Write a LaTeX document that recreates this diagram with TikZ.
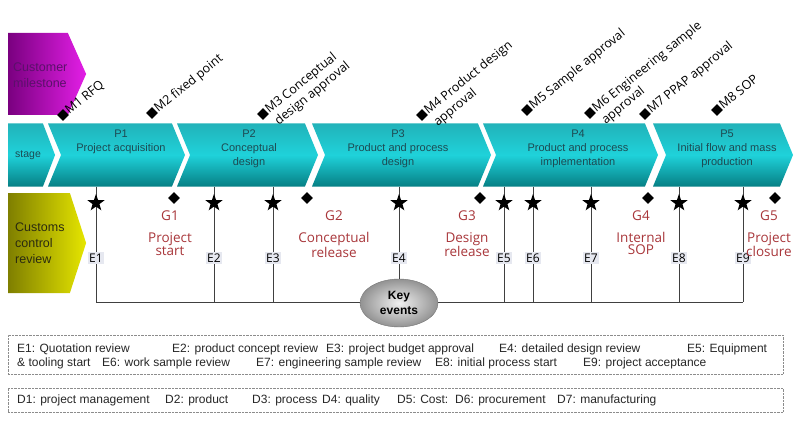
\documentclass[tikz,border=0pt]{standalone}
\usepackage{fontspec}
\setmainfont{Liberation Sans}
\newfontfamily\uifont{Open Sans}
\usepackage{tikz}
\usetikzlibrary{shapes.geometric,shapes.symbols,positioning}
\definecolor{TealTop}{HTML}{22B3B9}
\definecolor{TealMid}{HTML}{1FD2DA}
\definecolor{TealBot}{HTML}{067F84}
\definecolor{TealText}{HTML}{1D4A52}
\definecolor{MileDark}{HTML}{7A0080}
\definecolor{MileLight}{HTML}{E31FE6}
\definecolor{MileText}{HTML}{5B106B}
\definecolor{CtrlDark}{HTML}{7F7F00}
\definecolor{CtrlLight}{HTML}{E6E600}
\definecolor{CtrlText}{HTML}{2B2B10}
\definecolor{GateRed}{HTML}{A8363A}
\definecolor{LabelBg}{HTML}{E6E8F0}
\tikzset{
  hdr/.style={signal, signal to=east, signal from=nowhere, inner sep=0pt, draw=none},
  hdrtext/.style={anchor=west, align=left, inner sep=0pt, font=\fontsize{12.5}{15.5}\selectfont},
  chev/.style={signal, signal from=west, signal to=east, signal pointer angle=135, minimum height=63pt, inner sep=0pt, draw=none, top color=TealTop, bottom color=TealBot, middle color=TealMid},
  ptext/.style={anchor=north, align=center, inner sep=0pt, text=TealText, font=\fontsize{11}{14}\selectfont},
  mdia/.style={diamond, fill=black, minimum size=12pt, inner sep=0pt},
  mlabel/.style={anchor=base west, rotate=39, inner sep=0pt, font=\uifont\fontsize{12.5}{15}\selectfont},
  gdia/.style={diamond, fill=black, minimum size=12pt, inner sep=0pt},
  gtitle/.style={inner sep=0pt, text=GateRed, font=\uifont\fontsize{13.5}{14}\selectfont},
  gdesc/.style={align=center, inner sep=0pt, text=GateRed, font=\uifont\fontsize{13.5}{12}\selectfont},
  evstar/.style={star, star points=5, star point ratio=2.5, fill=black, minimum size=18pt, inner sep=0pt},
  evlabel/.style={fill=LabelBg, inner sep=1.5pt, font=\uifont\fontsize{12}{14}\selectfont},
  evline/.style={draw=black!75, line width=0.9pt},
  keyev/.style={ellipse, draw=black!55, inner color=gray!12, outer color=gray!85, minimum width=78pt, minimum height=48pt, align=center, inner sep=0pt, font=\bfseries\fontsize{12}{15}\selectfont},
  legbox/.style={draw=black!45, densely dotted, inner sep=0pt},
  legtext/.style={anchor=base west, inner sep=0pt, text=black!85, font=\fontsize{12}{14}\selectfont}
}

\begin{document}
\begin{tikzpicture}[x=1pt,y=-1pt]
    \useasboundingbox (0,0) rectangle (800,425);
    % row headers
    \node[hdr, signal pointer angle=132, left color=MileDark, right color=MileLight, minimum width=78pt, minimum height=82pt] (milehdr) at (38,74) {};
    \node[hdrtext, text=MileText] (miletxt) at (13,75) {Customer\\milestone};
    \node[hdr, signal pointer angle=138, top color=TealTop, bottom color=TealBot, middle color=TealMid, minimum width=47pt, minimum height=63pt] (stagehdr) at (25.5,155) {};
    \node[inner sep=0pt, text=TealText, font=\fontsize{10.5}{12}\selectfont] (stagetxt) at (28,155) {stage};
    \node[hdr, signal pointer angle=144, left color=CtrlDark, right color=CtrlLight, minimum width=78pt, minimum height=100pt] (ctrlhdr) at (39,243) {};
    \node[hdrtext, text=CtrlText, font=\fontsize{12.5}{16}\selectfont] (ctrltxt) at (15,243) {Customs\\control\\review};
    % stages
    \node[chev, minimum width=137pt] (c1) at (116.5,155) {};
    \node[chev, minimum width=141pt] (c2) at (247.5,155) {};
    \node[chev, minimum width=179pt] (c3) at (401.5,155) {};
    \node[chev, minimum width=175pt] (c4) at (570.5,155) {};
    \node[chev, minimum width=140pt] (c5) at (723,155) {};
    \node[ptext] (p1) at (121,130) {P1\\Project acquisition};
    \node[ptext] (p2) at (249,130) {P2\\Conceptual\\design};
    \node[ptext] (p3) at (398,130) {P3\\Product and process\\design};
    \node[ptext] (p4) at (578,130) {P4\\Product and process\\implementation};
    \node[ptext] (p5) at (727,130) {P5\\Initial flow and mass\\production};
    % customer milestones
    \node[mdia] (m1) at (63,115) {};
    \node[mdia] (m2) at (152,113) {};
    \node[mdia] (m3) at (263,114) {};
    \node[mdia] (m4) at (422,115) {};
    \node[mdia] (m5) at (527,110) {};
    \node[mdia] (m6) at (590,113) {};
    \node[mdia] (m7) at (645,114) {};
    \node[mdia] (m8) at (717,110) {};
    \node[mlabel] (m1t) at (m1.east) {M1 RFQ};
    \node[mlabel] (m2t) at (m2.east) {M2 fixed point};
    \node[mlabel] (m3t) at (m3.east) {\vtop{\hbox{M3 Conceptual}\hbox{design approval}}};
    \node[mlabel] (m4t) at (m4.east) {\vtop{\hbox{M4 Product design}\hbox{approval}}};
    \node[mlabel] (m5t) at (m5.east) {M5 Sample approval};
    \node[mlabel] (m6t) at (m6.east) {\vtop{\hbox{M6 Engineering sample}\hbox{approval}}};
    \node[mlabel] (m7t) at (m7.east) {M7 PPAP approval};
    \node[mlabel] (m8t) at (m8.east) {M8 SOP};
    % key events
    \coordinate (b1) at (96,302);
    \coordinate (b2) at (214,302);
    \coordinate (b3) at (273,302);
    \coordinate (b4) at (399,302);
    \coordinate (b5) at (504,302);
    \coordinate (b6) at (533,302);
    \coordinate (b7) at (591,302);
    \coordinate (b8) at (679,302);
    \coordinate (b9) at (743,302);
    \draw[evline] (b1) -- (b9);
    \node[keyev] (key) at (399,303) {Key\\events};
    \draw[evline] (b1 |- c1.south) -- (b1);
    \draw[evline] (b2 |- c1.south) -- (b2);
    \draw[evline] (b3 |- c1.south) -- (b3);
    \draw[evline] (b4 |- c1.south) -- (key);
    \draw[evline] (b5 |- c1.south) -- (b5);
    \draw[evline] (b6 |- c1.south) -- (b6);
    \draw[evline] (b7 |- c1.south) -- (b7);
    \draw[evline] (b8 |- c1.south) -- (b8);
    \draw[evline] (b9 |- c1.south) -- (b9);
    \node[evstar] (s1) at (96,203) {};
    \node[evstar] (s2) at (214,203) {};
    \node[evstar] (s3) at (273,203) {};
    \node[evstar] (s4) at (399,203) {};
    \node[evstar] (s5) at (504,203) {};
    \node[evstar] (s6) at (533,203) {};
    \node[evstar] (s7) at (591,203) {};
    \node[evstar] (s8) at (679,203) {};
    \node[evstar] (s9) at (743,203) {};
    \node[evlabel] (e1) at (96,258) {E1};
    \node[evlabel] (e2) at (214,258) {E2};
    \node[evlabel] (e3) at (273,258) {E3};
    \node[evlabel] (e4) at (399,258) {E4};
    \node[evlabel] (e5) at (504,258) {E5};
    \node[evlabel] (e6) at (533,258) {E6};
    \node[evlabel] (e7) at (591,258) {E7};
    \node[evlabel] (e8) at (679,258) {E8};
    \node[evlabel] (e9) at (743,258) {E9};
    % gates
    \node[gdia] (g1) at (174,198) {};
    \node[gdia] (g2) at (307,198) {};
    \node[gdia] (g3) at (480,198) {};
    \node[gdia] (g4) at (648,198) {};
    \node[gdia] (g5) at (775,198) {};
    \node[gtitle] (g1t) at (170,216) {G1};
    \node[gtitle] (g2t) at (334,216) {G2};
    \node[gtitle] (g3t) at (467,216) {G3};
    \node[gtitle] (g4t) at (641,216) {G4};
    \node[gtitle] (g5t) at (769,216) {G5};
    \node[gdesc, below=11pt of g1t] (g1d) {Project\\start};
    \node[gdesc, below=11pt of g2t] (g2d) {Conceptual\\release};
    \node[gdesc, below=11pt of g3t] (g3d) {Design\\release};
    \node[gdesc, below=11pt of g4t] (g4d) {Internal\\SOP};
    \node[gdesc, below=11pt of g5t] (g5d) {Project\\closure};
    % legends
    \node[legbox, minimum width=775pt, minimum height=39pt] (evkey) at (395.5,354.5) {};
    \node[legtext] (k1) at (17,352) {E1: Quotation review};
    \node[legtext] (k2) at (172,352) {E2: product concept review};
    \node[legtext] (k3) at (326,352) {E3: project budget approval};
    \node[legtext] (k4) at (499,352) {E4: detailed design review};
    \node[legtext] (k5) at (687,352) {E5: Equipment};
    \node[legtext] (k5b) at (17,366) {\& tooling start};
    \node[legtext] (k6) at (102,366) {E6: work sample review};
    \node[legtext] (k7) at (256,366) {E7: engineering sample review};
    \node[legtext] (k8) at (435,366) {E8: initial process start};
    \node[legtext] (k9) at (583,366) {E9: project acceptance};
    \node[legbox, minimum width=775pt, minimum height=24pt] (dkey) at (395.5,400) {};
    \node[legtext] (d1) at (17,403) {D1: project management};
    \node[legtext] (d2) at (165,403) {D2: product};
    \node[legtext] (d3) at (252,403) {D3: process};
    \node[legtext] (d4) at (322,403) {D4: quality};
    \node[legtext] (d5) at (397,403) {D5: Cost:};
    \node[legtext] (d6) at (455,403) {D6: procurement};
    \node[legtext] (d7) at (557,403) {D7: manufacturing};
\end{tikzpicture}
\end{document}
